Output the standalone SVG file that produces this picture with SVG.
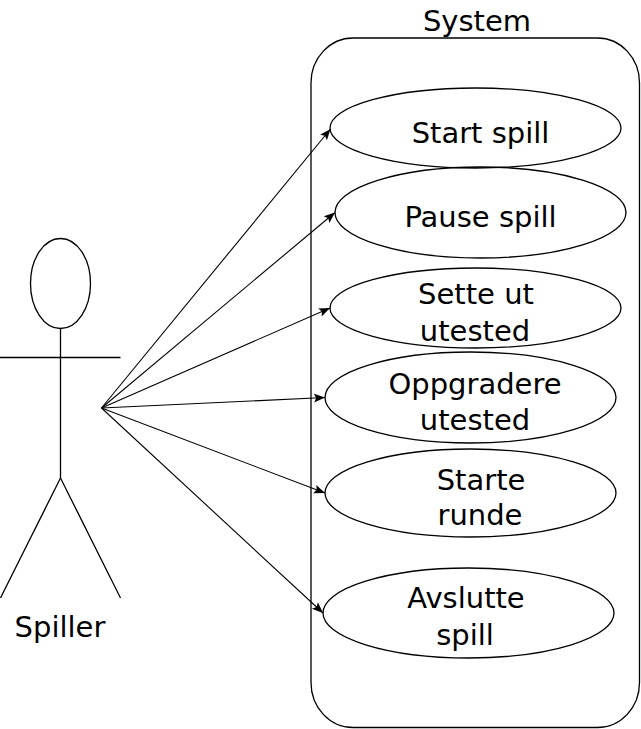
<svg xmlns="http://www.w3.org/2000/svg" width="641" height="729" viewBox="0 0 641 729">
<style>
.s{fill:none;stroke:#000;stroke-width:1.3}
.t{font-family:"DejaVu Sans","Liberation Sans",sans-serif;font-size:29px;fill:#000;text-anchor:middle}
.c{fill:none;stroke:#000;stroke-width:1.1;marker-end:url(#ah)}
</style>
<defs>
<marker id="ah" viewBox="0 0 10 10" refX="10" refY="5" markerWidth="11" markerHeight="11" markerUnits="userSpaceOnUse" orient="auto">
<path d="M0,1 L10,5 L0,9 L2,5 Z" fill="#000"/>
</marker>
</defs>
<rect fill="#fff" x="0" y="0" width="641" height="729"/>
<g id="system">
<rect class="s" x="311" y="38" width="328.5" height="689.5" rx="42" ry="45"/>
<text class="t" x="477" y="31">System</text>
</g>
<g id="actor">
<ellipse class="s" cx="60.5" cy="283.5" rx="30" ry="45"/>
<line class="s" x1="60.5" y1="328.5" x2="60.5" y2="478"/>
<line class="s" x1="0" y1="357.5" x2="120.5" y2="357.5"/>
<line class="s" x1="60.5" y1="478" x2="0.5" y2="598"/>
<line class="s" x1="60.5" y1="478" x2="120.5" y2="598"/>
<text class="t" x="60" y="637">Spiller</text>
</g>
<g id="uc1">
<ellipse class="s" cx="475.5" cy="128" rx="145.5" ry="40"/>
<text class="t" x="480.5" y="143">Start spill</text>
</g>
<g id="uc2">
<ellipse class="s" cx="480.5" cy="212.5" rx="145.5" ry="45.5"/>
<text class="t" x="480.5" y="227">Pause spill</text>
</g>
<g id="uc3">
<ellipse class="s" cx="475.5" cy="308" rx="145.5" ry="40"/>
<text class="t" x="476" y="304">Sette ut</text>
<text class="t" x="475" y="340.5">utested</text>
</g>
<g id="uc4">
<ellipse class="s" cx="470.5" cy="397.5" rx="145.5" ry="45.5"/>
<text class="t" x="475" y="394">Oppgradere</text>
<text class="t" x="475" y="430">utested</text>
</g>
<g id="uc5">
<ellipse class="s" cx="470.5" cy="493" rx="145.5" ry="44"/>
<text class="t" x="481" y="490">Starte</text>
<text class="t" x="480" y="525">runde</text>
</g>
<g id="uc6">
<ellipse class="s" cx="468.5" cy="613" rx="145.5" ry="45"/>
<text class="t" x="466" y="608">Avslutte</text>
<text class="t" x="465" y="645">spill</text>
</g>
<g id="connectors">
<line class="c" x1="101.5" y1="408" x2="330.5" y2="129"/>
<line class="c" x1="101.5" y1="408" x2="335" y2="212.5"/>
<line class="c" x1="101.5" y1="408" x2="330" y2="308"/>
<line class="c" x1="101.5" y1="408" x2="325" y2="397.5"/>
<line class="c" x1="101.5" y1="408" x2="325" y2="493"/>
<line class="c" x1="101.5" y1="408" x2="323" y2="613"/>
</g>
</svg>
